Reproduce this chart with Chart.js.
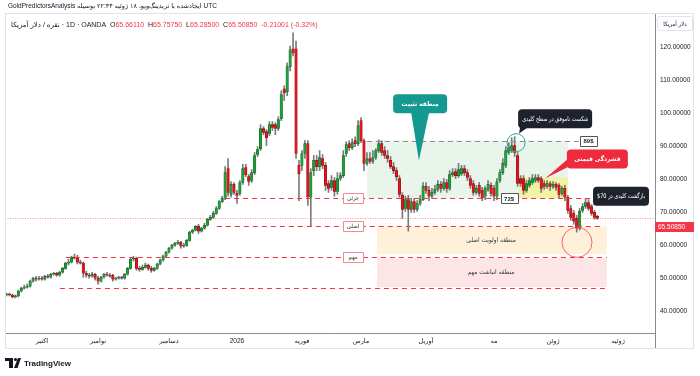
<!DOCTYPE html>
<html>
<head>
<meta charset="utf-8">
<script src="https://cdn.jsdelivr.net/npm/chart.js@4.4.1/dist/chart.umd.min.js"></script>
<style>
  html, body { margin: 0; padding: 0; background: #fff; }
  canvas { display: block; }
</style>
</head>
<body>
<canvas id="chart" width="700" height="376"></canvas>
<script>
// daily candles, [open, high, low, close]
const candles = [
  [44.8,45.4,44.5,45.1],[45.1,45.4,44.5,44.8],[44.8,45.1,43.9,44.2],[44.2,44.8,43.9,44.5],[44.5,46.3,44.2,46.0],[46.0,47.2,45.7,46.9],[46.9,47.8,46.6,47.2],[47.2,48.1,46.9,47.5],[47.5,49.3,47.2,49.0],[49.0,50.2,48.7,49.9],
  [49.9,50.5,49.0,49.6],[49.6,50.5,49.3,49.9],[49.9,50.5,49.3,49.6],[49.6,50.8,49.3,50.5],[50.5,51.1,49.9,50.2],[50.2,51.4,49.9,51.1],[51.1,51.7,50.8,51.4],[51.4,51.7,50.5,50.8],[50.8,52.0,50.5,51.7],[51.7,53.2,51.4,52.9],
  [52.9,54.8,52.6,54.5],[54.5,55.7,53.9,54.8],[54.8,56.6,54.5,56.3],[56.3,57.2,55.7,56.0],[56.3,56.9,54.2,54.8],[54.8,55.4,54.2,54.5],[54.5,54.8,50.2,51.4],[51.4,52.0,50.2,50.8],[50.8,51.4,49.9,50.5],[50.5,51.7,50.2,51.1],
  [51.1,51.4,49.3,49.9],[49.9,50.5,48.1,49.0],[49.0,50.5,48.7,50.2],[50.2,51.4,49.9,51.1],[51.1,51.7,50.5,50.8],[50.8,51.4,50.2,50.5],[50.8,51.1,49.0,49.6],[49.6,50.2,49.3,49.9],[49.9,50.5,49.6,50.2],[50.2,50.5,49.6,49.9],
  [49.9,51.4,49.6,51.1],[51.1,53.2,50.8,52.9],[52.9,55.9,52.6,55.7],[55.7,56.6,55.1,56.0],[56.0,56.3,52.3,52.9],[52.9,53.5,52.0,52.6],[52.6,53.9,52.3,53.2],[53.2,54.5,52.9,53.9],[53.9,54.2,52.3,52.9],[52.9,53.5,51.7,52.3],
  [52.3,53.2,52.0,52.9],[52.9,54.5,52.6,54.2],[54.2,55.7,53.9,55.4],[55.4,56.9,55.1,56.6],[56.6,58.1,56.3,57.8],[57.8,59.3,57.5,59.0],[59.0,60.2,58.7,59.9],[59.9,60.8,59.6,60.5],[60.5,61.4,60.2,60.8],[60.8,61.1,59.0,59.6],
  [59.6,60.5,59.3,59.9],[59.9,61.7,59.6,61.4],[61.4,64.2,61.1,63.9],[63.9,64.8,63.5,64.5],[64.5,65.9,64.2,65.7],[65.7,66.3,63.5,64.2],[64.2,65.4,63.9,65.1],[65.1,66.6,64.8,66.0],[66.0,68.1,65.7,67.8],[67.8,69.0,67.5,68.4],
  [68.4,70.2,68.1,69.6],[69.6,71.7,69.3,71.1],[71.1,73.5,70.8,73.2],[73.2,74.8,72.9,74.2],[74.2,83.8,73.8,82.0],[83.2,86.3,74.8,76.0],[75.4,79.3,74.5,78.4],[78.4,79.0,75.4,76.0],[75.7,76.6,72.6,75.1],[75.7,79.6,75.1,79.0],
  [79.0,84.5,78.4,83.2],[83.5,84.5,80.8,81.4],[80.8,81.4,78.1,79.3],[79.6,82.9,79.0,82.0],[82.0,88.1,81.4,87.2],[87.5,89.9,86.9,89.0],[89.3,96.6,88.7,95.4],[95.4,96.0,93.5,94.2],[94.5,95.1,90.2,92.6],[93.9,97.5,93.2,96.6],
  [96.6,97.5,94.8,95.7],[96.6,97.2,93.5,95.4],[95.4,99.0,94.8,98.1],[98.4,106.9,97.8,105.7],[107.5,108.4,103.9,106.3],[106.6,115.4,105.4,114.2],[114.2,120.5,112.9,119.3],[119.6,124.5,117.5,118.4],[119.6,122.0,86.3,87.8],[84.2,85.7,73.5,81.7],
  [84.2,88.7,82.6,87.8],[87.8,91.7,86.3,90.8],[90.8,91.7,72.0,74.5],[74.5,83.2,65.7,82.0],[82.6,87.2,81.1,85.7],[85.7,87.2,82.6,83.8],[83.8,88.7,82.6,86.6],[86.3,87.5,83.2,84.2],[84.2,85.1,76.6,78.1],[78.7,79.6,76.0,77.2],
  [77.5,81.1,76.6,79.6],[79.6,80.5,74.8,76.3],[76.3,82.0,75.4,80.2],[80.2,82.0,79.6,81.1],[81.1,88.7,80.5,87.2],[87.8,91.4,86.9,90.5],[90.8,91.7,88.7,89.6],[89.6,92.3,89.0,91.1],[91.7,92.9,89.9,90.8],[90.8,97.8,90.2,96.3],
  [97.8,98.7,91.1,91.7],[91.7,92.3,82.6,84.8],[84.8,88.1,84.2,86.3],[86.3,88.1,84.8,85.4],[85.4,88.7,84.8,86.6],[86.6,89.3,86.0,88.7],[88.7,92.0,88.1,90.8],[90.8,91.7,87.2,88.1],[88.7,89.9,86.3,87.2],[87.2,88.7,85.1,86.3],
  [85.7,86.9,83.2,83.8],[83.8,85.1,81.7,82.6],[82.6,83.5,79.6,80.8],[80.2,81.1,74.5,75.4],[75.1,75.9,68.1,70.8],[71.1,74.8,70.2,73.8],[73.8,75.1,64.2,70.8],[70.8,74.2,69.9,73.2],[73.2,74.2,69.9,70.8],[70.8,73.5,70.2,72.6],
  [72.6,75.1,72.0,73.8],[73.8,79.0,73.5,77.8],[77.8,79.0,75.7,76.6],[76.6,77.8,73.5,74.8],[74.8,77.2,74.2,76.0],[76.0,78.1,75.4,76.9],[76.9,79.6,76.3,78.4],[78.4,79.3,76.0,77.2],[77.2,80.2,76.6,79.0],[79.0,79.9,76.0,77.2],
  [77.2,82.6,76.6,81.4],[81.4,83.2,80.8,82.0],[82.3,83.2,80.2,81.1],[81.1,84.8,80.5,82.9],[81.7,84.2,81.1,83.2],[83.2,84.2,81.1,82.0],[82.0,82.9,79.6,80.5],[80.2,81.1,77.2,78.1],[78.7,79.6,75.1,76.0],[76.0,78.1,75.4,77.2],
  [78.1,79.0,74.8,75.7],[76.6,77.5,73.5,74.2],[74.8,77.8,73.8,77.2],[76.9,79.6,76.3,78.4],[78.1,79.0,74.8,75.7],[77.2,78.1,73.5,74.8],[74.8,80.2,73.8,79.3],[79.6,82.9,79.0,82.0],[82.0,86.3,81.4,84.8],[84.2,89.9,83.5,88.7],
  [88.1,91.1,87.5,89.6],[88.7,92.6,88.1,90.2],[90.2,92.9,86.9,88.1],[87.2,88.1,77.8,78.7],[80.2,81.1,77.8,78.7],[80.2,81.1,75.4,76.6],[76.6,79.6,76.0,78.7],[78.1,80.5,77.5,79.6],[79.0,81.4,78.4,80.2],[79.6,81.4,79.0,80.5],
  [80.5,81.4,79.0,79.6],[80.2,80.8,76.0,77.2],[78.7,79.6,76.9,77.8],[77.8,79.6,77.2,78.7],[78.7,79.3,76.6,77.8],[77.8,79.3,77.2,78.4],[78.4,79.0,76.6,77.5],[78.1,78.7,74.2,75.4],[75.7,77.8,75.1,77.2],[77.2,78.1,73.5,74.5],
  [74.5,75.1,69.6,70.5],[71.1,72.0,67.5,68.4],[69.6,70.5,66.3,67.2],[68.1,69.0,63.9,65.1],[65.1,71.1,64.5,70.2],[70.5,72.6,69.9,71.7],[71.7,74.2,71.1,72.9],[72.9,73.8,70.5,71.1],[71.7,72.3,69.0,69.6],[69.9,70.5,67.8,68.4],
  [68.7,69.0,67.8,68.1]
];

// month labels sit on the first bar of each month
const monthTicks = [
  [12, 'اکتبر'], [31, 'نوامبر'], [55, 'دسامبر'], [78, '2026'], [100, 'فوریه'],
  [120, 'مارس'], [142, 'آوریل'], [165, 'مه'], [185, 'ژوئن'], [207, 'ژوئیه']
];
const priceTicks = [40, 50, 60, 70, 80, 90, 100, 110, 120];
const lastPrice = 65.5085;
const legendOHLC = [['O', '65.66110'], ['H', '65.75750'], ['L', '65.28500'], ['C', '65.50850']];
const legendChange = '-0.21001 (-0.32%)';

// drawings: zones [fromBar, toBar, top, bottom, colour, text, textBar]
const zones = [
  [122, 190, 91.73, 74.15, 'rgba(76,175,80,0.12)', '', 0],
  [173.5, 190, 80.5, 74.15, 'rgba(255,235,59,0.40)', '', 0],
  [125.4, 203.2, 65.67, 57.2, 'rgba(255,167,38,0.17)', 'منطقه اولویت اصلی', 164],
  [125.4, 203.2, 55.97, 47.2, 'rgba(242,54,69,0.13)', 'منطقه انباشت مهم', 164]
];
// red dashed levels [value, fromBar, toBar]
const redLevels = [[74.15, 74, 201], [65.67, 71.2, 201], [56.27, 20.1, 203.2], [46.88, 18.1, 203.2]];
const grayLevel = [91.73, 122, 194.5];
const dottedLevel = 68.1;
const levelTags = [['جزئی', 74.15, 117.3], ['اصلی', 65.67, 117.3], ['مهم', 56.27, 117.3]];
const priceTags = [['72$', 74.15, 170.1], ['89$', 91.73, 197]];
// callouts [text, bar, value, colour, tipBar, tipValue, edge, at, half, boxWidth, bold]
const callouts = [
  ['منطقه تثبیت', 140, 102.9, '#13998f', 139.6, 85.7, 'bottom', 0.5, 9, 54, true],
  ['شکست ناموفق در سطح کلیدی', 185.7, 98.4, '#1e222d', 173.5, 93.9, 'bottom', 0.08, 4, 74, false],
  ['فشردگی قیمتی', 200, 86.1, '#ee2a3c', 182.3, 80.2, 'left', 0.7, 4, 61, true],
  ['بازگشت کلیدی در 70$', 208, 74.8, '#1e222d', 196.1, 72.0, 'bottom', 0.1, 4, 56, false]
];
// circles [bar, value, radius, colour]
const circles = [[172.5, 91.1, 9, '#26a69a'], [193.1, 60.8, 15, 'rgba(242,54,69,0.75)']];

const FONT = '"Liberation Sans", "DejaVu Sans", sans-serif';
const FA_FONT = '"DejaVu Sans Condensed", "DejaVu Sans", sans-serif';
const UP = '#1f9e3a';
const DOWN = '#e3161f';
const RED = '#f23645';
const TEXT = '#131722';

function text(ctx, str, x, y, font, color, align, dir, maxW) {
  ctx.font = font;
  ctx.fillStyle = color;
  ctx.textAlign = align || 'center';
  ctx.textBaseline = 'middle';
  ctx.direction = dir || 'ltr';
  if (maxW) ctx.fillText(str, x, y, maxW);
  else ctx.fillText(str, x, y);
}

function hline(ctx, y, x0, x1, color, dash, width) {
  ctx.save();
  ctx.strokeStyle = color;
  ctx.lineWidth = width || 1;
  ctx.setLineDash(dash);
  ctx.beginPath();
  ctx.moveTo(x0, Math.round(y) + 0.5);
  ctx.lineTo(x1, Math.round(y) + 0.5);
  ctx.stroke();
  ctx.restore();
}

function tagBox(ctx, str, cx, cy, border, color, font, minW) {
  ctx.font = font;
  const w = Math.max(ctx.measureText(str).width + 7, minW), h = 10;
  ctx.fillStyle = '#fff';
  ctx.strokeStyle = border;
  ctx.lineWidth = 1;
  ctx.beginPath();
  ctx.rect(Math.round(cx - w / 2) + 0.5, Math.round(cy - h / 2) + 0.5, Math.round(w), h);
  ctx.fill();
  ctx.stroke();
  text(ctx, str, cx, cy + 0.5, font, color, 'center', 'rtl');
}

const overlay = {
  id: 'overlay',
  beforeDatasetsDraw(chart) {
    const { ctx, chartArea: a, scales: { x, y } } = chart;
    ctx.save();
    ctx.beginPath();
    ctx.rect(a.left, a.top, a.width, a.height);
    ctx.clip();
    zones.forEach(z => {
      const x0 = x.getPixelForValue(z[0]), x1 = x.getPixelForValue(z[1]);
      const y0 = y.getPixelForValue(z[2]), y1 = y.getPixelForValue(z[3]);
      ctx.fillStyle = z[4];
      ctx.fillRect(x0, y0, x1 - x0, y1 - y0);
    });
    ctx.restore();
  },
  afterDatasetsDraw(chart) {
    const { ctx, chartArea: a, scales: { x, y } } = chart;
    ctx.save();
    ctx.beginPath();
    ctx.rect(a.left, a.top, a.width, a.height);
    ctx.clip();

    zones.forEach(z => {
      if (!z[5]) return;
      const cy = (y.getPixelForValue(z[2]) + y.getPixelForValue(z[3])) / 2;
      text(ctx, z[5], x.getPixelForValue(z[6]), cy, '6.5px ' + FA_FONT, '#3b3b3b', 'center', 'rtl');
    });

    hline(ctx, y.getPixelForValue(dottedLevel), a.left, a.right, 'rgba(242,54,69,0.55)', [1, 1.5]);
    redLevels.forEach(l => hline(ctx, y.getPixelForValue(l[0]), x.getPixelForValue(l[1]), x.getPixelForValue(l[2]), RED, [5, 4], 1.2));
    hline(ctx, y.getPixelForValue(grayLevel[0]), x.getPixelForValue(grayLevel[1]), x.getPixelForValue(grayLevel[2]), '#8d8d8d', [5, 4]);

    levelTags.forEach(t => tagBox(ctx, t[0], x.getPixelForValue(t[2]), y.getPixelForValue(t[1]), '#f28a95', '#333', '6px ' + FA_FONT, 20));
    priceTags.forEach(t => tagBox(ctx, t[0], x.getPixelForValue(t[2]), y.getPixelForValue(t[1]), '#555', '#1e222d', 'bold 6px ' + FONT, 17));

    circles.forEach(c => {
      ctx.strokeStyle = c[3];
      ctx.lineWidth = 1;
      ctx.beginPath();
      ctx.arc(x.getPixelForValue(c[0]), y.getPixelForValue(c[1]), c[2], 0, Math.PI * 2);
      ctx.stroke();
    });

    callouts.forEach(c => {
      const font = (c[10] ? 'bold ' : '') + '6.5px ' + FA_FONT;
      const w = c[9], h = 19;
      const cx = x.getPixelForValue(c[1]), cy = y.getPixelForValue(c[2]);
      const l = cx - w / 2, t = cy - h / 2;
      const tx = x.getPixelForValue(c[4]), ty = y.getPixelForValue(c[5]);
      ctx.fillStyle = c[3];
      ctx.beginPath();
      ctx.roundRect(l, t, w, h, 4);
      ctx.fill();
      ctx.beginPath();
      if (c[6] === 'bottom') {
        const bx = l + w * c[7];
        ctx.moveTo(bx - c[8], t + h - 1);
        ctx.lineTo(tx, ty);
        ctx.lineTo(bx + c[8], t + h - 1);
      } else {
        const by = t + h * c[7];
        ctx.moveTo(l + 1, by - c[8]);
        ctx.lineTo(tx, ty);
        ctx.lineTo(l + 1, by + c[8]);
      }
      ctx.closePath();
      ctx.fill();
      text(ctx, c[0], cx, cy + 0.5, font, '#fff', 'center', 'rtl', w - 8);
    });
    ctx.restore();
  },
  afterDraw(chart) {
    const { ctx, chartArea: a, scales: { y } } = chart;
    ctx.save();
    // pane frame
    ctx.strokeStyle = '#e0e3eb';
    ctx.lineWidth = 1;
    ctx.strokeRect(5.5, 13.5, 688, 335);
    ctx.strokeStyle = '#8a8a8a';
    ctx.beginPath();
    ctx.moveTo(a.right + 0.5, a.bottom);
    ctx.lineTo(a.right + 0.5, 348);
    ctx.stroke();

    // last price tag on the axis
    const ly = y.getPixelForValue(lastPrice);
    ctx.fillStyle = RED;
    ctx.fillRect(a.right, Math.round(ly) - 5, 39, 10);
    text(ctx, lastPrice.toFixed(5), a.right + 3, ly + 0.5, '6.5px ' + FONT, '#fff', 'left');

    // currency box above the axis
    ctx.fillStyle = '#fff';
    ctx.strokeStyle = '#e0e3eb';
    ctx.beginPath();
    ctx.roundRect(657.5, 16.5, 35, 14, 2);
    ctx.fill();
    ctx.stroke();
    text(ctx, 'دلار آمریکا', 675, 24, '6px ' + FA_FONT, TEXT, 'center', 'rtl');

    // header lines
    text(ctx, 'UTC ایجادشده با تریدینگ‌ویو، ۱۸ ژوئیه ۲۲:۴۴ بوسیله GoldPredictorsAnalysis', 8, 6, '6.5px ' + FONT, TEXT, 'left', 'rtl');
    let cx = 11;
    const f = '7px ' + FONT;
    const seg = (s, col, dir) => {
      text(ctx, s, cx, 25, f, col, 'left', dir);
      cx += ctx.measureText(s).width;
    };
    seg('نقره / دلار آمریکا', TEXT, 'rtl');
    seg(' · 1D · OANDA  ', TEXT);
    legendOHLC.forEach(p => { seg(p[0], TEXT); seg(p[1] + '  ', RED); });
    seg(legendChange, RED);

    // TradingView mark
    ctx.fillStyle = TEXT;
    ctx.fillRect(5, 358, 8, 3);
    ctx.fillRect(9, 358, 4, 10);
    ctx.beginPath();
    ctx.arc(15.5, 359.5, 1.6, 0, Math.PI * 2);
    ctx.fill();
    ctx.beginPath();
    ctx.moveTo(14, 368);
    ctx.lineTo(18, 358);
    ctx.lineTo(21, 358);
    ctx.lineTo(17.5, 368);
    ctx.closePath();
    ctx.fill();
    text(ctx, 'TradingView', 24, 363.5, 'bold 8px ' + FONT, TEXT, 'left');
    ctx.restore();
  }
};

new Chart(document.getElementById('chart'), {
  type: 'bar',
  data: {
    datasets: [
      {
        label: 'wicks',
        data: candles.map((c, i) => ({ x: i, y: [c[2], c[1]] })),
        backgroundColor: '#7a7a7a',
        barThickness: 1,
        grouped: false,
        order: 2
      },
      {
        label: 'bodies',
        data: candles.map((c, i) => ({ x: i, y: [c[0], c[3]] })),
        backgroundColor: candles.map(c => c[3] >= c[0] ? UP : DOWN),
        borderColor: candles.map(c => c[3] >= c[0] ? '#0f5a22' : '#7d0c10'),
        borderWidth: 0.5,
        borderSkipped: false,
        barThickness: 2.5,
        minBarLength: 1,
        grouped: false,
        order: 1
      }
    ]
  },
  options: {
    responsive: false,
    animation: false,
    layout: { padding: { left: 5, top: 13, right: 0, bottom: 28 } },
    plugins: { legend: { display: false }, tooltip: { enabled: false } },
    scales: {
      x: {
        type: 'linear',
        min: -0.5,
        max: 219.5,
        offset: false,
        grid: { display: false, drawTicks: false },
        border: { display: true, color: '#8a8a8a' },
        afterBuildTicks: s => { s.ticks = monthTicks.map(m => ({ value: m[0] })); },
        afterFit: s => { s.height = 15; },
        ticks: {
          autoSkip: false,
          maxRotation: 0,
          padding: 4,
          color: TEXT,
          font: { size: 6.5, family: FONT },
          callback: (v, i) => monthTicks[i] ? monthTicks[i][1] : ''
        }
      },
      y: {
        position: 'right',
        min: 33.24,
        max: 130.52,
        grid: { display: false, drawTicks: false },
        border: { display: true, color: '#8a8a8a' },
        afterBuildTicks: s => { s.ticks = priceTicks.map(v => ({ value: v })); },
        afterFit: s => { s.width = 45; },
        ticks: {
          padding: 5,
          color: TEXT,
          font: { size: 6.5, family: FONT },
          callback: v => Number(v).toFixed(5)
        }
      }
    }
  },
  plugins: [overlay]
});
</script>
</body>
</html>
